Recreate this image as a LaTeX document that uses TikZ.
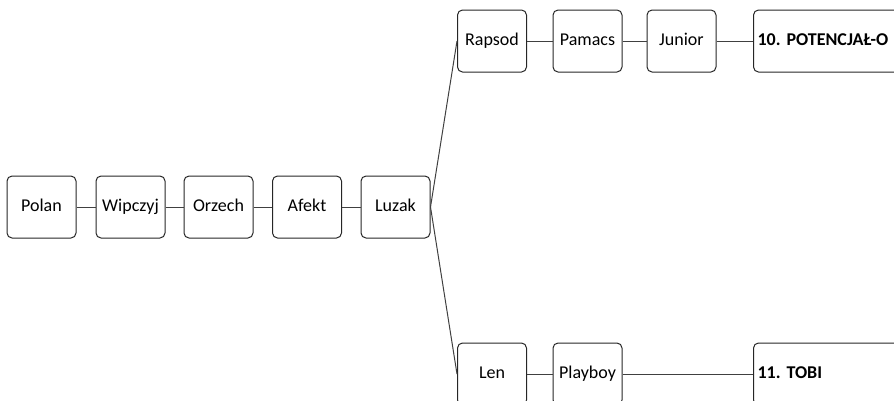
\documentclass[tikz,border=0pt]{standalone}
\usepackage{fontspec}
\setmainfont{Carlito}
\frenchspacing
\begin{document}
\begin{tikzpicture}[x=1pt,y=-1pt,
  box/.style={draw=black!85, line width=1pt, rounded corners=5pt, minimum width=69pt, minimum height=62pt, inner sep=0pt, text height=12.5pt, text depth=3.5pt, font=\fontsize{18}{20}\selectfont},
  bigbox/.style={box, text width=202pt, align=left, inner xsep=4pt, font=\fontsize{18}{20}\selectfont\bfseries},
  link/.style={draw=black!75, line width=1pt}]
\useasboundingbox (0,0) rectangle (894,400);
\clip (0,0) rectangle (894,400);
\node[box] (polan) at (41.5,207) {Polan};
\node[box] (wip) at (130.5,207) {Wipczyj};
\node[box] (orz) at (218.5,207) {Orzech};
\node[box] (afekt) at (307,207) {Afekt};
\node[box] (luzak) at (395.5,207) {Luzak};
\node[box] (rapsod) at (492,41) {Rapsod};
\node[box] (pamacs) at (587.5,41) {Pamacs};
\node[box] (junior) at (681.5,41) {Junior};
\node[bigbox, anchor=west] (pot) at (753,41) {10. POTENCJAŁ-O};
\node[box] (len) at (492,374) {Len};
\node[box] (playboy) at (587.5,374) {Playboy};
\node[bigbox, anchor=west] (tobi) at (753,374) {11. TOBI};
\draw[link] (polan) -- (wip);
\draw[link] (wip) -- (orz);
\draw[link] (orz) -- (afekt);
\draw[link] (afekt) -- (luzak);
\draw[link] (luzak.east) -- (rapsod.west);
\draw[link] (luzak.east) -- (len.west);
\draw[link] (rapsod) -- (pamacs);
\draw[link] (pamacs) -- (junior);
\draw[link] (junior.east) -- (pot.west);
\draw[link] (len) -- (playboy);
\draw[link] (playboy.east) -- (tobi.west);
\end{tikzpicture}
\end{document}
